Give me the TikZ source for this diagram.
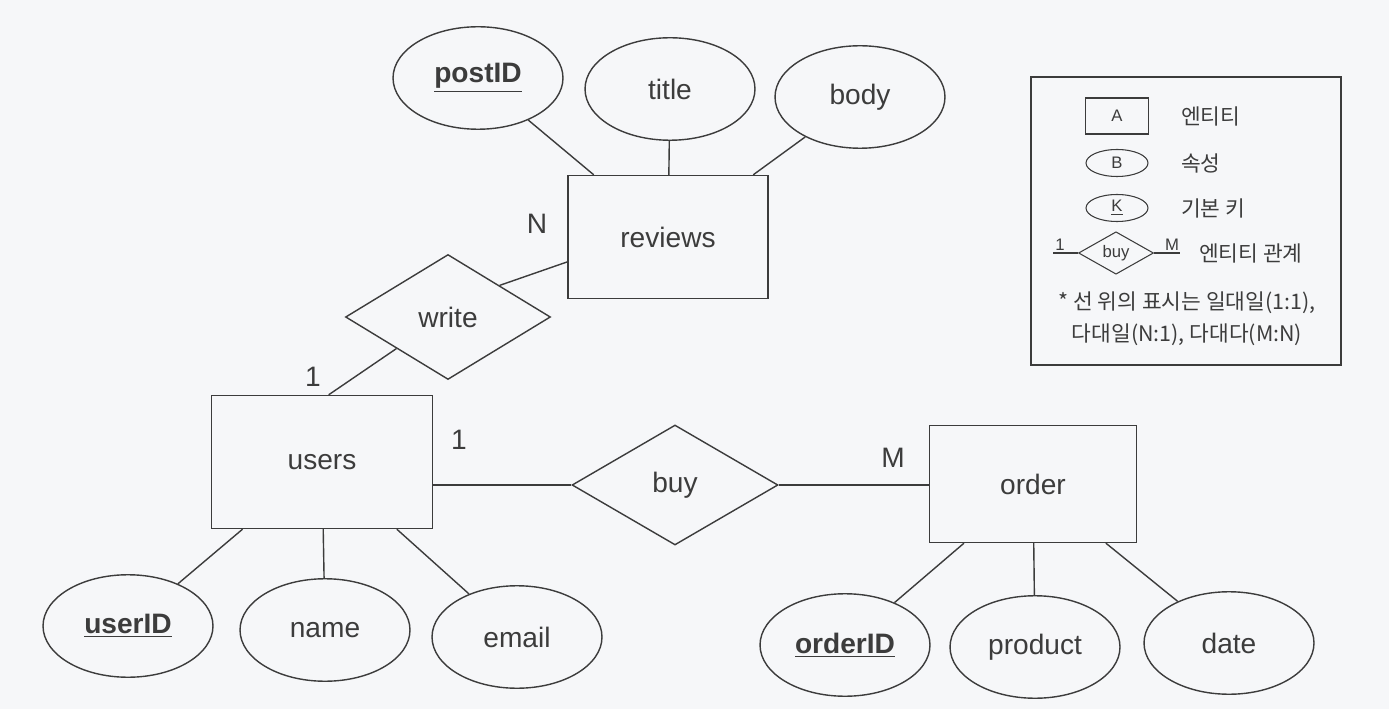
\documentclass[tikz,border=0pt]{standalone}
\usepackage{fontspec}
\setmainfont{Liberation Sans}
\newfontfamily\kofont{Noto Sans CJK KR}
\usetikzlibrary{shapes.geometric,calc}
\definecolor{inkgray}{RGB}{60,60,60}
\definecolor{paper}{RGB}{246,247,249}

\begin{document}
\begin{tikzpicture}[x=0.02cm,y=-0.02cm,
        every node/.style={text=inkgray,font=\fontsize{16}{19}\selectfont},
        link/.style={draw=inkgray,line width=0.8pt},
        entity/.style={link,rectangle},
        attr/.style={link,ellipse,minimum width=3.4cm,minimum height=2.05cm,inner sep=0pt},
        rel/.style={link,diamond,inner sep=0pt},
        small/.style={font=\fontsize{9.5}{11}\selectfont},
        kotext/.style={font=\kofont\fontsize{12.2}{14}\selectfont}]
        \fill[paper] (0,0) rectangle (1389,709);
        \useasboundingbox (0,0) rectangle (1389,709);

        \node[entity,minimum width=4cm,minimum height=2.46cm] (reviews) at (668,237) {reviews};
        \node[entity,minimum width=4.42cm,minimum height=2.66cm] (users) at (322,462) {users};
        \node[entity,minimum width=4.14cm,minimum height=2.34cm] (order) at (1033,484) {order};

        \node[rel,minimum width=4.1cm,minimum height=2.5cm] (write) at (448,317) {write};
        \node[rel,minimum width=4.12cm,minimum height=2.4cm] (buy) at (675,485) {buy};

        \node[attr] (postID) at (478,78) {\textbf{\underline{postID}}};
        \node[attr] (title) at (670,89) {title};
        \node[attr] (body) at (860,97) {body};
        \node[attr] (userID) at (128,626) {\textbf{\underline{userID}}};
        \node[attr] (name) at (325,630) {name};
        \node[attr] (email) at (517,637) {email};
        \node[attr] (orderID) at (845,645) {\textbf{\underline{orderID}}};
        \node[attr] (product) at (1035,647) {product};
        \node[attr] (date) at (1229,643) {date};

        \foreach \a in {postID,title,body} \draw[link] (reviews) -- (\a);
        \foreach \a in {userID,name,email} \draw[link] (users) -- (\a);
        \foreach \a in {orderID,product,date} \draw[link] (order) -- (\a);

        \draw[link] ($(write.north)!0.5!(write.east)$) -- ($(reviews.south west)!0.3!(reviews.north west)$);
        \draw[link] ($(users.north west)!0.53!(users.north east)$) -- ($(write.west)!0.5!(write.south)$);
        \draw[link] (buy.west -| users.east) -- (buy.west);
        \draw[link] (buy.east) -- (buy.east -| order.west);

        \node (cardN) at (537,224) {N};
        \node (cardW) at (313,377) {1};
        \node (cardB) at (459,440) {1};
        \node (cardM) at (893,458) {M};

        \node[draw=inkgray,line width=0.7pt,minimum width=6.2cm,minimum height=5.76cm] (legend) at (1186,221) {};
        \node[entity,small,line width=0.6pt,minimum width=1.26cm,minimum height=0.72cm] (legA) at (1117,116) {A};
        \node[attr,small,line width=0.6pt,minimum width=1.24cm,minimum height=0.54cm] (legB) at (1117,163) {B};
        \node[attr,small,line width=0.6pt,minimum width=1.24cm,minimum height=0.54cm] (legK) at (1117,208) {\underline{K}};
        \node[rel,small,line width=0.6pt,minimum width=1.5cm,minimum height=0.82cm] (legbuy) at (1116,253) {buy};
        \coordinate (legL) at (1053,253);
        \coordinate (legR) at (1180,253);
        \draw[link,line width=0.6pt] (legL) -- (legbuy.west);
        \draw[link,line width=0.6pt] (legbuy.east) -- (legR);
        \node[small,anchor=south,inner sep=1pt] (leg1) at (1060,253) {1};
        \node[small,anchor=south,inner sep=1pt] (legM) at (1172,253) {M};

        \node[kotext,anchor=west] (txtA) at (1175,116) {엔티티};
        \node[kotext,anchor=west] (txtB) at (1175,163) {속성};
        \node[kotext,anchor=west] (txtK) at (1175,208) {기본 키};
        \node[kotext,anchor=west] (txtR) at (1193,253) {엔티티 관계};
        \node[kotext] (note1) at (1187,303) {* 선 위의 표시는 일대일(1:1),};
        \node[kotext] (note2) at (1187,335) {다대일(N:1), 다대다(M:N)};
\end{tikzpicture}
\end{document}
